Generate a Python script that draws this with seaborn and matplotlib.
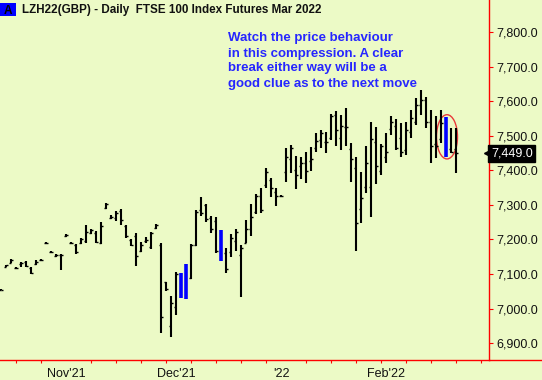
import numpy as np
import pandas as pd
import seaborn as sns
import matplotlib
matplotlib.use('Agg')
import matplotlib.pyplot as plt
from matplotlib.patches import Ellipse, Rectangle
from matplotlib.lines import Line2D
from matplotlib.transforms import blended_transform_factory


# daily OHLC, one entry per trading day from 13 Oct 2021
opens = [7055, 7120, 7132, 7117, 7129, 7134, 7117, 7129, 7140, 7189,
         7163, 7152, 7155, 7210, 7189, 7184, 7189, 7195, 7218, 7218,
         7189, 7291, 7262, 7262, 7282, 7239, 7198, 7210, 7166, 7195,
         7178, 7233, 7184, 7077, 6949, 7004, 7040, 7040, 7088, 7184,
         7285, 7299, 7262, 7253, 7224, 7160, 7163, 7195, 7155, 7189,
         7230, 7279, 7325, 7357, 7372, 7337, 7325, 7395, 7432, 7401,
         7412, 7421, 7427, 7464, 7487, 7482, 7493, 7560, 7493, 7525,
         7461, 7406, 7288, 7351, 7351, 7482, 7398, 7438, 7519, 7528,
         7493, 7459, 7511, 7540, 7589, 7603, 7540, 7476, 7490, 7548,
         7461, 7461]
highs = [7057, 7126, 7143, 7120, 7134, 7137, 7120, 7140, 7143, 7192,
         7166, 7158, 7158, 7215, 7192, 7187, 7204, 7241, 7230, 7224,
         7250, 7305, 7270, 7282, 7288, 7241, 7201, 7218, 7192, 7207,
         7221, 7244, 7189, 7077, 7036, 7105, 7103, 7129, 7187, 7285,
         7323, 7302, 7268, 7265, 7227, 7175, 7215, 7230, 7184, 7256,
         7302, 7331, 7349, 7406, 7377, 7349, 7328, 7464, 7473, 7441,
         7438, 7453, 7467, 7508, 7516, 7511, 7563, 7571, 7560, 7580,
         7479, 7438, 7395, 7470, 7540, 7525, 7476, 7508, 7557, 7548,
         7537, 7540, 7574, 7609, 7632, 7612, 7574, 7557, 7574, 7554,
         7522, 7522]
lows = [7053, 7120, 7132, 7114, 7120, 7120, 7100, 7126, 7137, 7187,
        7160, 7149, 7111, 7207, 7187, 7158, 7187, 7189, 7215, 7189,
        7187, 7288, 7259, 7253, 7241, 7204, 7181, 7123, 7163, 7189,
        7172, 7230, 6929, 7050, 6917, 6981, 7030, 7027, 7085, 7181,
        7268, 7250, 7218, 7160, 7137, 7103, 7149, 7166, 7033, 7189,
        7210, 7273, 7276, 7349, 7323, 7296, 7323, 7366, 7392, 7346,
        7375, 7363, 7398, 7453, 7464, 7450, 7487, 7470, 7459, 7470,
        7366, 7166, 7247, 7334, 7265, 7360, 7386, 7421, 7502, 7459,
        7438, 7444, 7493, 7531, 7560, 7522, 7421, 7435, 7479, 7438,
        7450, 7392]
closes = [7055, 7126, 7140, 7117, 7132, 7123, 7103, 7134, 7140, 7189,
          7163, 7155, 7155, 7213, 7189, 7163, 7201, 7221, 7227, 7192,
          7239, 7302, 7265, 7276, 7256, 7210, 7184, 7152, 7184, 7198,
          7218, 7241, 6975, 7056, 7016, 7100, 7095, 7123, 7184, 7279,
          7276, 7259, 7230, 7166, 7143, 7114, 7204, 7221, 7175, 7230,
          7265, 7325, 7285, 7395, 7349, 7325, 7325, 7438, 7464, 7386,
          7421, 7398, 7432, 7485, 7508, 7482, 7557, 7516, 7528, 7525,
          7432, 7247, 7320, 7421, 7490, 7412, 7470, 7453, 7540, 7464,
          7453, 7516, 7551, 7589, 7603, 7540, 7470, 7470, 7537, 7444,
          7453, 7449]
blue_bars = [36, 37, 44, 89]          # highlighted bars
last_price = 7449.0

start_date = '2021-10-13'
end_axis_date = '2022-02-28'
holidays = ['2021-12-27', '2021-12-28']
month_names = {11: "Nov'21", 12: "Dec'21", 1: "'22", 2: "Feb'22"}
y_ticks = [6900, 7000, 7100, 7200, 7300, 7400, 7500, 7600, 7700, 7800]

title = 'LZH22(GBP) - Daily  FTSE 100 Index Futures Mar 2022'
note_lines = ['Watch the price behaviour',
              'in this compression. A clear',
              'break either way will be a',
              'good clue as to the next move']

bg = '#ecfac6'
red = '#ff0000'

sns.set_theme(style='white')
plt.rcParams['font.family'] = ['Liberation Sans', 'DejaVu Sans']
plt.rcParams['lines.solid_capstyle'] = 'butt'

# trading calendar -> integer positions
days = pd.bdate_range(start_date, end_axis_date)
days = days[~days.isin(pd.to_datetime(holidays))]
cal = pd.DataFrame({'date': days, 'pos': np.arange(len(days))})
week_start = cal[cal['date'].dt.isocalendar().week.diff().fillna(0) != 0]
month_start = cal[cal['date'].dt.month.diff().fillna(0) != 0]

df = pd.DataFrame({'open': opens, 'high': highs, 'low': lows, 'close': closes})
df['x'] = np.arange(len(df))
df['kind'] = np.where(df['x'].isin(blue_bars), 'blue', 'bar')

# long table of segments for seaborn: high-low range, open tick, close tick
w = 0.45
segs = []
for r in df.itertuples():
    segs.append((f'r{r.x}', r.kind, r.x, r.low))
    segs.append((f'r{r.x}', r.kind, r.x, r.high))
    if r.kind == 'bar':
        segs.append((f'o{r.x}', 'tick', r.x - w, r.open))
        segs.append((f'o{r.x}', 'tick', r.x, r.open))
        segs.append((f'c{r.x}', 'tick', r.x, r.close))
        segs.append((f'c{r.x}', 'tick', r.x + w, r.close))
seg = pd.DataFrame(segs, columns=['seg', 'kind', 'x', 'price'])

fig = plt.figure(figsize=(5.42, 3.8), dpi=100, facecolor=bg)
ax = fig.add_axes([0, 20 / 380, 489 / 542, 360 / 380], facecolor=bg)

sns.lineplot(data=seg, x='x', y='price', units='seg', estimator=None, sort=False,
             hue='kind', palette={'bar': 'black', 'blue': '#0000ff', 'tick': 'black'},
             size='kind', sizes={'bar': 1.5, 'blue': 2.6, 'tick': 1.0},
             legend=False, ax=ax)

ax.add_patch(Ellipse((89.2, 7497), width=4.2, height=128, fill=False,
                     ec='#e83a3a', lw=1.0))

ax.set_xlim(-0.2, 97.6)
ax.set_ylim(6851, 7893)
ax.set_xlabel('')
ax.set_ylabel('')

for s in ['left', 'top']:
    ax.spines[s].set_visible(False)
for s in ['right', 'bottom']:
    ax.spines[s].set_color(red)
    ax.spines[s].set_linewidth(1.0)

ax.yaxis.tick_right()
ax.set_yticks(y_ticks)
ax.set_yticklabels([f'{v:,.1f}' for v in y_ticks])
ax.tick_params(axis='y', which='major', direction='out', length=3, width=0.8,
               color=red, labelsize=9, pad=2, labelcolor='#111111')

ax.set_xticks(month_start['pos'].values)
ax.set_xticklabels([month_names[d.month] for d in month_start['date']])
ax.set_xticks(week_start['pos'].values, minor=True)
ax.tick_params(axis='x', which='major', direction='out', length=4.5, width=0.8,
               color=red, labelsize=9, pad=1, labelcolor='#111111')
ax.tick_params(axis='x', which='minor', direction='out', length=2.2, width=0.8,
               color=red, bottom=True)
ax.grid(False)

# bottom axis continues under the price scale
fig.add_artist(Line2D([489 / 542, 1], [20 / 380, 20 / 380], color=red, lw=1.0))

# last price tag
tr = blended_transform_factory(ax.transAxes, ax.transData)
ax.text(1.004, last_price, f'{last_price:,.1f}', transform=tr, ha='left', va='center',
        color='white', fontsize=9,
        bbox=dict(boxstyle='square,pad=0.22', fc='black', ec='black'), clip_on=False)
ax.plot([0.996], [last_price], marker='<', ms=4, color='black', transform=tr, clip_on=False)

# header
fig.add_artist(Rectangle((0, 1 - 15.5 / 380), 16 / 542, 13 / 380, transform=fig.transFigure,
                         fc='#0000ff', ec='none'))
fig.text(8 / 542, 1 - 13.5 / 380, 'A', ha='center', va='baseline', fontsize=8.5,
         weight='bold', color='black')
fig.text(22 / 542, 1 - 13.5 / 380, title, ha='left', va='baseline', fontsize=8.4,
         weight='bold', color='#111111')

for k, line in enumerate(note_lines):
    fig.text(228 / 542, 1 - (41.5 + 15 * k) / 380, line, ha='left', va='baseline',
             fontsize=9.5, weight='bold', color='#2626ff')

fig.savefig('out.png', dpi=100, facecolor=bg)
